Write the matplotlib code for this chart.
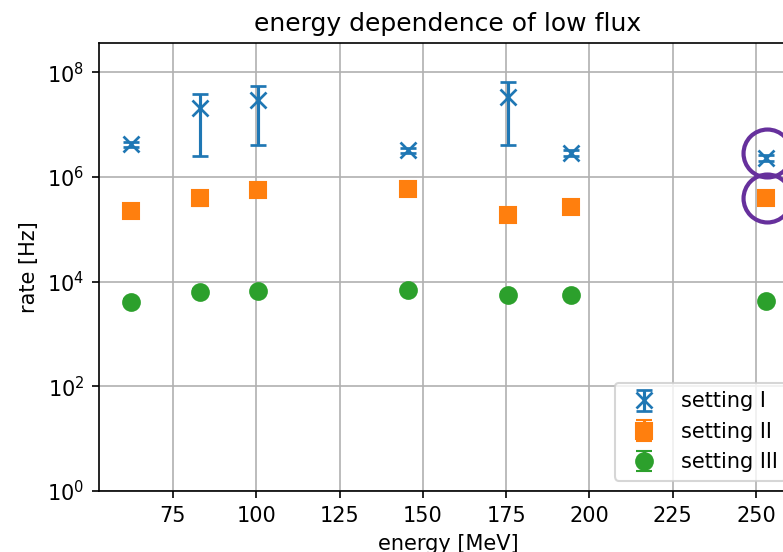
import matplotlib
matplotlib.use("Agg")
import matplotlib.pyplot as plt
import matplotlib.transforms as mtransforms

# beam energies [MeV]
energy = [62.5, 83.0, 100.5, 145.5, 175.5, 194.5, 253.0]

# measured rates [Hz] and their uncertainties
rate_I = [4.2e6, 2.05e7, 2.9e7, 3.2e6, 3.4e7, 2.9e6, 2.3e6]
err_I = [0.5e6, 1.8e7, 2.5e7, 0.4e6, 3.0e7, 0.35e6, 0.3e6]

rate_II = [2.2e5, 4.0e5, 5.6e5, 5.8e5, 1.85e5, 2.6e5, 4.0e5]
err_II = [0.4e5, 1.2e5, 1.4e5, 1.0e5, 0.3e5, 0.5e5, 0.5e5]

rate_III = [4.1e3, 6.3e3, 6.5e3, 6.8e3, 5.6e3, 5.6e3, 4.2e3]
err_III = [0.6e3, 0.8e3, 0.8e3, 0.8e3, 0.6e3, 0.6e3, 0.5e3]

labels = ["setting I", "setting II", "setting III"]

DPI = 150
fig = plt.figure(figsize=(783 / DPI, 552 / DPI), dpi=DPI)
ax = fig.add_axes([0.1264, 0.1105, 0.8914, 0.8116])

ax.errorbar(energy, rate_I, yerr=err_I, fmt="x", ms=8, mew=1.3,
            capsize=4, label=labels[0])
ax.errorbar(energy, rate_II, yerr=err_II, fmt="s", ms=8,
            capsize=4, label=labels[1])
ax.errorbar(energy, rate_III, yerr=err_III, fmt="o", ms=8,
            capsize=4, label=labels[2])

# hand-drawn highlight rings around the last two points
ring_dy = {0: 0.03, 1: 0.0}  # the upper ring sits a bit above its point
for i, rates in enumerate((rate_I, rate_II)):
    tr = mtransforms.offset_copy(ax.transData, fig=fig, x=0.01, y=ring_dy[i],
                                 units="inches")
    ax.plot(energy[-1], rates[-1], marker="o", ms=23, mfc="none",
            mec="#66309c", mew=2, clip_on=False, zorder=5, transform=tr)

ax.set_yscale("log")
ax.set_ylim(1, 3.6e8)
ax.set_xlim(52.8, 262.3)
ax.set_yticks([1e0, 1e2, 1e4, 1e6, 1e8])
ax.yaxis.set_minor_locator(matplotlib.ticker.NullLocator())

ax.grid(True)
ax.set_xlabel("energy [MeV]")
ax.set_ylabel("rate [Hz]")
ax.set_title("energy dependence of low flux")
ax.legend(loc="lower right")

fig.savefig("out.png", dpi=DPI)
